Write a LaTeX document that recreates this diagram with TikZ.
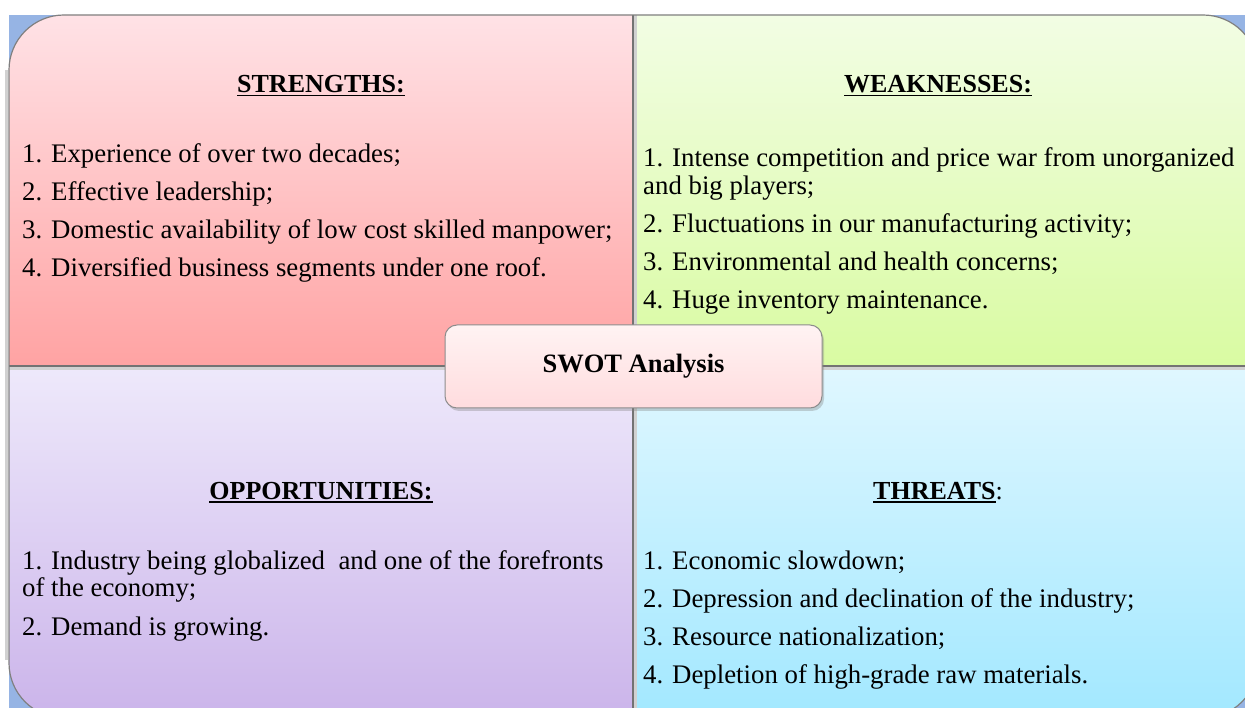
\documentclass[tikz,border=0pt]{standalone}
\usepackage{fontspec}
\setmainfont{Liberation Serif}
\usetikzlibrary{shadows}
\definecolor{bgblue}{RGB}{150,180,228}
\definecolor{tlTop}{RGB}{255,226,230}
\definecolor{tlBot}{RGB}{255,163,163}
\definecolor{trTop}{RGB}{242,253,228}
\definecolor{trBot}{RGB}{217,251,162}
\definecolor{blTop}{RGB}{238,233,251}
\definecolor{blBot}{RGB}{203,180,234}
\definecolor{brTop}{RGB}{224,247,255}
\definecolor{brBot}{RGB}{162,232,255}
\definecolor{cTop}{RGB}{255,243,243}
\definecolor{cBot}{RGB}{255,220,222}
\newcommand\hul[1]{\setbox0\hbox{#1}\rlap{\rule[-3.5pt]{\wd0}{1.8pt}}\box0}
\begin{document}
\begin{tikzpicture}[x=1pt,y=-1pt,
  txt/.style={anchor=base west,inner sep=0pt,font=\fontsize{26.8}{30}\selectfont},
  hdr/.style={anchor=base,inner sep=0pt,font=\fontsize{26}{30}\selectfont\bfseries},
  divider/.style={draw=black!55,line width=1.2pt},
  shade line/.style={draw=black!18,line width=3pt}]
\useasboundingbox (0,0) rectangle (1245,708);
\fill[white] (0,0) rectangle (1245,708);
\fill[bgblue] (9,15) rectangle (1245,708);
\draw[shade line] (6,70) -- (6,660);
\begin{scope}
  \clip (0,0) rectangle (1245,708);
  \begin{scope}
    \clip[rounded corners=55pt] (9,15) rectangle (1258,718);
    \shade[top color=tlTop,bottom color=tlBot] (9,15) rectangle (633,366);
    \shade[top color=trTop,bottom color=trBot] (633,15) rectangle (1258,366);
    \shade[top color=blTop,bottom color=blBot] (9,366) rectangle (633,718);
    \shade[top color=brTop,bottom color=brBot] (633,366) rectangle (1258,718);
    \draw[shade line] (9,368.5) -- (1258,368.5);
    \draw[shade line] (635.5,15) -- (635.5,718);
    \draw[divider] (633,15) -- (633,718);
    \draw[divider] (9,366) -- (1258,366);
  \end{scope}
  \draw[black!50,line width=1.2pt,rounded corners=55pt] (9,15) rectangle (1258,718);
\end{scope}

% Strengths
\node[hdr] (sh) at (321,93) {\hul{STRENGTHS:}};
\node[txt] (s1) at (22,163) {1. Experience of over two decades;};
\node[txt] (s2) at (22,201) {2. Effective leadership;};
\node[txt] (s3) at (22,239) {3. Domestic availability of low cost skilled manpower;};
\node[txt] (s4) at (22,277) {4. Diversified business segments under one roof.};

% Weaknesses
\node[hdr] (wh) at (938,93) {\hul{WEAKNESSES:}};
\node[txt] (w1a) at (643,167) {1. Intense competition and price war from unorganized};
\node[txt] (w1b) at (643,195) {and big players;};
\node[txt] (w2) at (643,233) {2. Fluctuations in our manufacturing activity;};
\node[txt] (w3) at (643,271) {3. Environmental and health concerns;};
\node[txt] (w4) at (643,309) {4. Huge inventory maintenance.};

% Opportunities
\node[hdr] (oh) at (321,499) {\hul{OPPORTUNITIES:}};
\node[txt] (o1a) at (22,569) {1. Industry being globalized~ and one of the forefronts};
\node[txt] (o1b) at (22,596) {of the economy;};
\node[txt] (o2) at (22,635) {2. Demand is growing.};

% Threats
\node[hdr] (th) at (938,499) {\hul{THREATS}{\mdseries :}};
\node[txt] (t1) at (643,569) {1. Economic slowdown;};
\node[txt] (t2) at (643,607) {2. Depression and declination of the industry;};
\node[txt] (t3) at (643,645) {3. Resource nationalization;};
\node[txt] (t4) at (643,683) {4. Depletion of high-grade raw materials.};

% Centre
\node[draw=black!45,line width=1pt,rounded corners=12pt,top color=cTop,bottom color=cBot,
      minimum width=377pt,minimum height=83pt,
      drop shadow={shadow xshift=2pt,shadow yshift=-3pt,opacity=0.35},
      font=\fontsize{26.5}{30}\selectfont\bfseries] (swot) at (633.5,366.5) {SWOT Analysis};
\end{tikzpicture}
\end{document}
